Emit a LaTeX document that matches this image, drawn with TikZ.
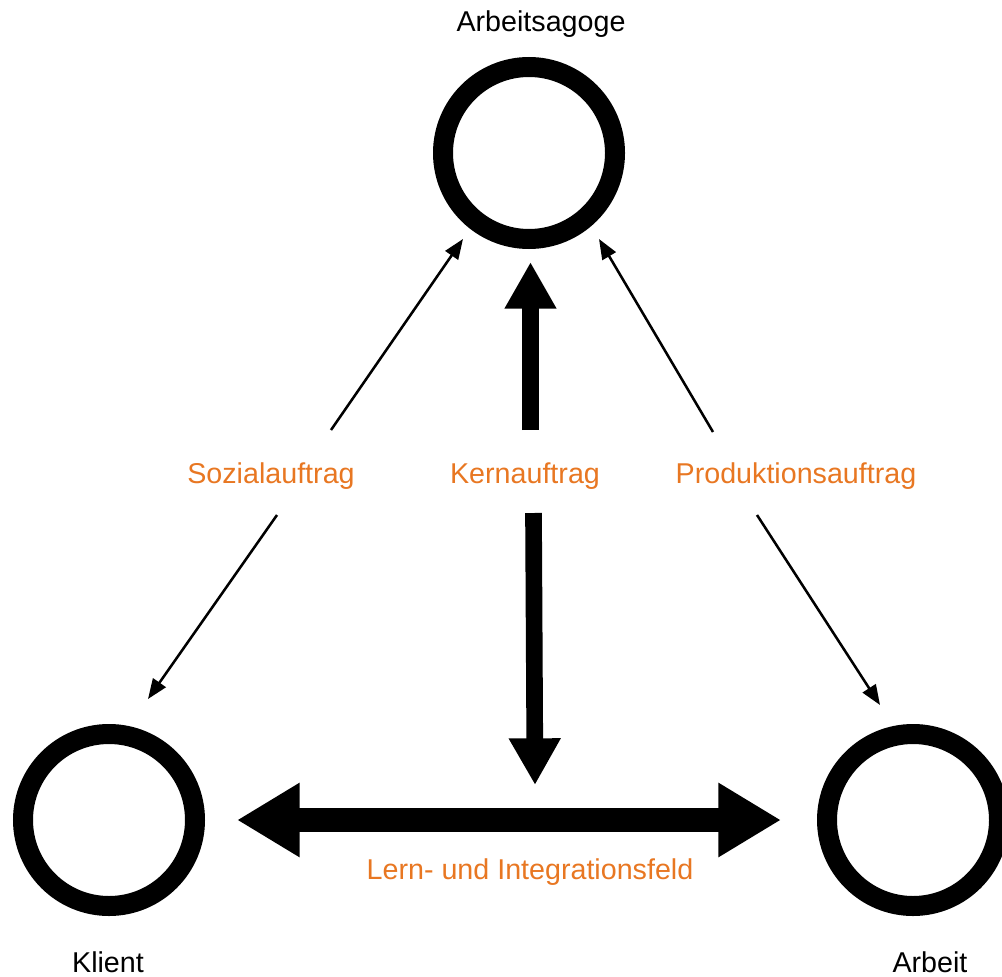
\documentclass[tikz,border=0pt]{standalone}
\usepackage{fontspec}
\setmainfont{Liberation Sans}
\usetikzlibrary{arrows.meta}
\definecolor{auftrag}{RGB}{232,119,34}
\tikzset{
  ring/.style={circle,draw=black,line width=15pt,minimum size=129pt,inner sep=0pt},
  lbl/.style={anchor=base,inner sep=0pt,font=\fontsize{21.5}{25}\selectfont},
  olbl/.style={lbl,text=auftrag},
  thinarrow/.style={line width=1.9pt,-{Triangle[length=15pt,width=11.5pt]}},
  vertarrow/.style={line width=12.5pt,-{Triangle[length=35pt,width=36.5pt]}},
  horarrow/.style={line width=18pt,{Triangle[length=47pt,width=52.5pt]}-{Triangle[length=47pt,width=52.5pt]}}
}
\begin{document}
\begin{tikzpicture}[x=0.75pt,y=-0.75pt]
\useasboundingbox (0,0) rectangle (1002,977);
\clip (0,0) rectangle (1002,977);
% circles
\node[ring] (A) at (529,153) {};
\node[ring] (K) at (109,820) {};
\node[ring] (W) at (913,820) {};
% labels
\node[lbl] (tA) at (541,32) {Arbeitsagoge};
\node[lbl] (tK) at (108,972) {Klient};
\node[lbl] (tW) at (930,972) {Arbeit};
\node[olbl] (soz) at (271,483) {Sozialauftrag};
\node[olbl] (kern) at (525,483) {Kernauftrag};
\node[olbl] (prod) at (796,483) {Produktionsauftrag};
\node[olbl] (lern) at (530,879) {Lern- und Integrationsfeld};
% arrow end points
\coordinate (s1) at (331,430);
\coordinate (s1e) at (463,239);
\coordinate (s2) at (277,515);
\coordinate (s2e) at (148,699);
\coordinate (p1) at (713,432);
\coordinate (p1e) at (599,239);
\coordinate (p2) at (757,515);
\coordinate (p2e) at (880,705);
\coordinate (k1) at (530.5,430);
\coordinate (k1e) at (530.5,262);
\coordinate (k2) at (533.5,513);
\coordinate (k2e) at (535,785);
\coordinate (h1) at (237,820);
\coordinate (h2) at (781,820);
% connectors
\draw[thinarrow] (s1) -- (s1e);
\draw[thinarrow] (s2) -- (s2e);
\draw[thinarrow] (p1) -- (p1e);
\draw[thinarrow] (p2) -- (p2e);
\draw[vertarrow] (k1) -- (k1e);
\draw[vertarrow] (k2) -- (k2e);
\draw[horarrow] (h1) -- (h2);
\end{tikzpicture}
\end{document}
